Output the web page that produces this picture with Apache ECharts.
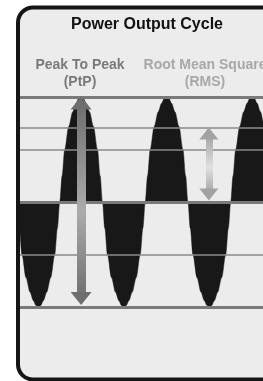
<!DOCTYPE html>
<html>
<head>
<meta charset="utf-8">
<script src="https://cdn.jsdelivr.net/npm/echarts@6/dist/echarts.min.js"></script>
<style>html,body{margin:0;padding:0;background:#fff;}#c{width:263px;height:381px;}</style>
</head>
<body>
<div id="c"></div>
<script>
// Waveform: phase (degrees) and normalised level
const wavePhase = [
  0, 10, 21, 38, 55, 69, 80, 90, 100, 111, 125, 142, 159, 170, 180,
  190, 201, 218, 235, 249, 260, 270, 280, 291, 305, 322, 339, 350, 360,
  370, 381, 398, 415, 429, 440, 450, 460, 471, 485, 502, 519, 530, 540,
  550, 561, 578, 595, 609, 620, 630, 640, 651, 665, 682, 699, 710, 720,
  730, 741, 758, 775, 789, 800, 810, 820, 831, 845, 862, 879, 890, 900,
  910, 921, 938, 955, 969, 980, 990, 1000, 1011, 1025, 1042, 1059, 1070, 1080
];
const waveLevel = [
  0, -0.25, -0.5, -0.72, -0.86, -0.94, -0.985, -1, -0.985, -0.94, -0.86, -0.72, -0.5, -0.25, 0,
  0.25, 0.5, 0.72, 0.86, 0.94, 0.985, 1, 0.985, 0.94, 0.86, 0.72, 0.5, 0.25, 0,
  -0.25, -0.5, -0.72, -0.86, -0.94, -0.985, -1, -0.985, -0.94, -0.86, -0.72, -0.5, -0.25, 0,
  0.25, 0.5, 0.72, 0.86, 0.94, 0.985, 1, 0.985, 0.94, 0.86, 0.72, 0.5, 0.25, 0,
  -0.25, -0.5, -0.72, -0.86, -0.94, -0.985, -1, -0.985, -0.94, -0.86, -0.72, -0.5, -0.25, 0,
  0.25, 0.5, 0.72, 0.86, 0.94, 0.985, 1, 0.985, 0.94, 0.86, 0.72, 0.5, 0.25, 0
];
// Reference levels (horizontal lines)
const thickLevels = [1, 0, -1];
const thinLevels = [0.707, 0.5, -0.5];
// Arrows: [phase, from level, to level]
const ptpArrow = [270, 0.943, -0.919];
const rmsArrow = [808, 0.652, 0.071];
// Texts
const titleText = 'Power Output Cycle';
const ptpText = 'Peak To Peak\n(PtP)';
const rmsText = 'Root Mean Square\n(RMS)';

const chart = echarts.init(document.getElementById('c'), null, {renderer: 'canvas'});
const FONT = '"Liberation Sans", Arial, Helvetica, sans-serif';

const grad = (a, b) => new echarts.graphic.LinearGradient(0, 0, 0, 1, [
  {offset: 0, color: a}, {offset: 0.55, color: b}, {offset: 1, color: a}
]);

function arrowSeries(arr, width, head, shaftEnd, shaftMid, headColor) {
  return [
    {
      type: 'line', z: 4, data: [], silent: true,
      markLine: {
        silent: true, symbol: 'none', label: {show: false},
        data: [[
          {coord: [arr[0], arr[1]]},
          {coord: [arr[0], arr[2]], lineStyle: {width: width, type: 'solid', color: grad(shaftEnd, shaftMid)}}
        ]]
      }
    },
    {
      type: 'scatter', z: 5, silent: true, symbol: 'triangle', symbolSize: head,
      itemStyle: {color: headColor, opacity: 1},
      data: [
        {value: [arr[0], arr[1]], symbolRotate: 0},
        {value: [arr[0], arr[2]], symbolRotate: 180}
      ]
    }
  ];
}

chart.setOption({
  backgroundColor: '#ffffff',
  animation: false,
  title: [
    {text: titleText, left: 147, top: 17, textAlign: 'center', padding: 0,
     textStyle: {fontFamily: FONT, fontSize: 16, fontWeight: 'bold', color: '#111111'}},
    {text: ptpText, left: 80, top: 57, textAlign: 'center', padding: 0,
     textStyle: {fontFamily: FONT, fontSize: 14, fontWeight: 'bold', color: '#7a7a7a', lineHeight: 17}},
    {text: rmsText, left: 205, top: 57, textAlign: 'center', padding: 0,
     textStyle: {fontFamily: FONT, fontSize: 14, fontWeight: 'bold', color: '#a8a8a8', lineHeight: 17}}
  ],
  graphic: [
    {type: 'rect', z: -10, shape: {x: 18, y: 7.5, width: 320, height: 372, r: 15},
     style: {fill: '#ececec', stroke: null}},
    {type: 'rect', z: 100, shape: {x: 18, y: 7.5, width: 320, height: 372, r: 15},
     style: {fill: null, stroke: '#151515', lineWidth: 4}}
  ],
  grid: {left: 17, right: 0, top: 97, bottom: 74},
  xAxis: {type: 'value', min: 0, max: 1036, show: false},
  yAxis: {type: 'value', min: -1, max: 1, show: false},
  series: [
    {
      type: 'line', z: 2,
      data: wavePhase.map((p, i) => [p, waveLevel[i]]),
      showSymbol: false, smooth: 0.3, smoothMonotone: 'x', clip: true,
      lineStyle: {width: 0.5, color: '#181818'},
      areaStyle: {color: '#181818', opacity: 1, origin: 0},
      silent: true
    },
    {
      type: 'line', z: 3, data: [], silent: true,
      markLine: {
        silent: true, symbol: 'none', label: {show: false},
        data: thickLevels.map(v => ({yAxis: v, lineStyle: {color: '#7a7a7a', width: 3, type: 'solid'}}))
          .concat(thinLevels.map(v => ({yAxis: v, lineStyle: {color: '#8a8a8a', width: 1.5, type: 'solid'}})))
      }
    }
  ].concat(
    arrowSeries(ptpArrow, 9, [21, 13], '#6c6c6c', '#ababab', '#6e6e6e'),
    arrowSeries(rmsArrow, 7, [19, 12], '#9a9a9a', '#e0e0e0', '#a2a2a2')
  )
});
</script>
</body>
</html>
